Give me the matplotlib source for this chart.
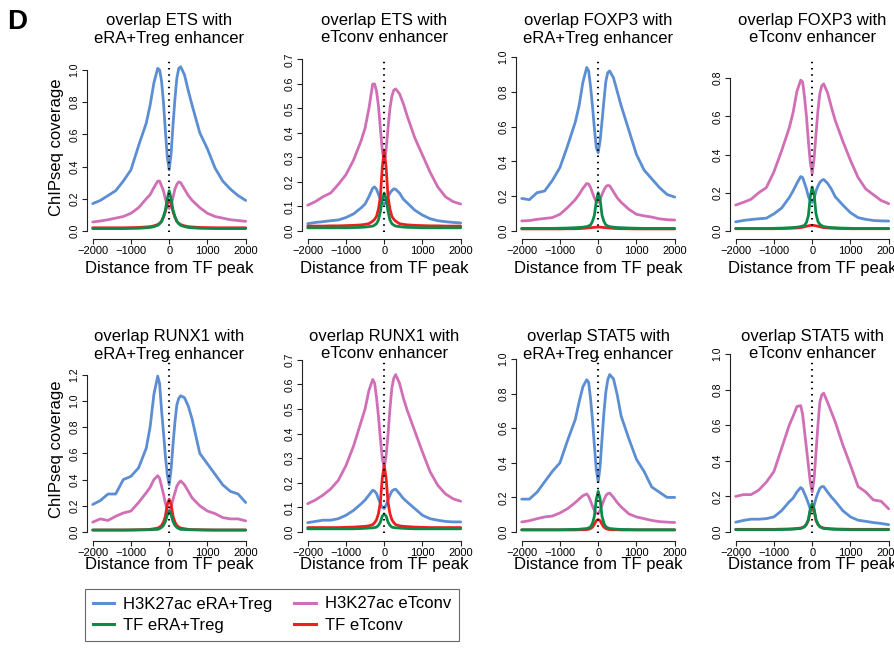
import matplotlib
matplotlib.use("Agg")
import numpy as np
import matplotlib.pyplot as plt
from matplotlib.lines import Line2D

plt.rcParams['font.family'] = ['Liberation Sans', 'DejaVu Sans']

# distance from TF peak (bp)
dist = [-2000, -1800, -1600, -1400, -1200, -1000, -800, -600, -500, -400, -300,
        -250, -200, -150, -100, -50, 0, 50, 100, 150, 200, 250,
        300, 400, 500, 600, 800, 1000, 1200, 1400, 1600, 1800, 2000]

# overlap ETS with eRA+Treg enhancer
ets_treg_h3_treg = [0.17, 0.19, 0.22, 0.25, 0.31, 0.38, 0.53, 0.67, 0.78, 0.92, 1.01,
                    1.00, 0.93, 0.80, 0.62, 0.46, 0.38, 0.48, 0.66, 0.82, 0.95, 1.01,
                    1.02, 0.97, 0.87, 0.78, 0.61, 0.51, 0.39, 0.31, 0.26, 0.22, 0.19]
ets_treg_h3_tconv = [0.056, 0.062, 0.07, 0.08, 0.09, 0.11, 0.145, 0.20, 0.225, 0.27, 0.31,
                     0.31, 0.28, 0.25, 0.20, 0.16, 0.14, 0.16, 0.21, 0.26, 0.29, 0.305,
                     0.30, 0.26, 0.22, 0.19, 0.145, 0.11, 0.09, 0.08, 0.07, 0.065, 0.06]
ets_treg_tf_treg = [0.015, 0.015, 0.015, 0.015, 0.015, 0.016, 0.017, 0.02, 0.022, 0.027, 0.035,
                    0.045, 0.06, 0.09, 0.13, 0.2, 0.25, 0.2, 0.13, 0.09, 0.06, 0.045,
                    0.035, 0.027, 0.022, 0.02, 0.017, 0.016, 0.015, 0.015, 0.015, 0.015, 0.015]
ets_treg_tf_tconv = [0.02, 0.02, 0.02, 0.02, 0.02, 0.021, 0.022, 0.025, 0.027, 0.032, 0.04,
                     0.048, 0.06, 0.085, 0.12, 0.17, 0.19, 0.17, 0.12, 0.085, 0.06, 0.048,
                     0.04, 0.032, 0.027, 0.025, 0.022, 0.021, 0.02, 0.02, 0.02, 0.02, 0.02]

# overlap ETS with eTconv enhancer
ets_tconv_h3_treg = [0.03, 0.035, 0.038, 0.042, 0.045, 0.055, 0.07, 0.095, 0.11, 0.14, 0.175,
                     0.18, 0.17, 0.15, 0.13, 0.115, 0.11, 0.12, 0.14, 0.155, 0.165, 0.172,
                     0.17, 0.155, 0.13, 0.115, 0.085, 0.065, 0.05, 0.042, 0.038, 0.035, 0.033]
ets_tconv_h3_tconv = [0.105, 0.12, 0.14, 0.155, 0.19, 0.23, 0.29, 0.37, 0.42, 0.50, 0.60,
                      0.60, 0.57, 0.51, 0.42, 0.33, 0.28, 0.33, 0.42, 0.50, 0.55, 0.575,
                      0.58, 0.56, 0.52, 0.47, 0.38, 0.31, 0.24, 0.18, 0.14, 0.12, 0.11]
ets_tconv_tf_treg = [0.013, 0.013, 0.013, 0.013, 0.013, 0.013, 0.014, 0.015, 0.016, 0.018, 0.02,
                     0.024, 0.03, 0.045, 0.08, 0.13, 0.155, 0.13, 0.08, 0.045, 0.03, 0.024,
                     0.02, 0.018, 0.016, 0.015, 0.014, 0.013, 0.013, 0.013, 0.013, 0.013, 0.013]
ets_tconv_tf_tconv = [0.02, 0.02, 0.02, 0.021, 0.021, 0.022, 0.023, 0.025, 0.027, 0.03, 0.04,
                      0.048, 0.06, 0.09, 0.14, 0.26, 0.33, 0.26, 0.14, 0.09, 0.06, 0.048,
                      0.04, 0.03, 0.027, 0.025, 0.023, 0.022, 0.021, 0.021, 0.02, 0.02, 0.02]

# overlap FOXP3 with eRA+Treg enhancer
foxp3_treg_h3_treg = [0.187, 0.18, 0.22, 0.23, 0.29, 0.365, 0.49, 0.625, 0.72, 0.855, 0.94,
                      0.92, 0.83, 0.72, 0.59, 0.48, 0.45, 0.52, 0.63, 0.75, 0.86, 0.91,
                      0.92, 0.88, 0.80, 0.72, 0.58, 0.44, 0.35, 0.30, 0.25, 0.21, 0.195]
foxp3_treg_h3_tconv = [0.058, 0.06, 0.067, 0.072, 0.077, 0.096, 0.135, 0.18, 0.21, 0.245, 0.273,
                       0.27, 0.25, 0.22, 0.19, 0.17, 0.165, 0.18, 0.21, 0.235, 0.255, 0.262,
                       0.26, 0.225, 0.19, 0.165, 0.125, 0.096, 0.087, 0.08, 0.07, 0.065, 0.063]
foxp3_treg_tf_treg = [0.015, 0.015, 0.015, 0.015, 0.015, 0.016, 0.017, 0.019, 0.02, 0.022, 0.025,
                      0.029, 0.035, 0.055, 0.09, 0.17, 0.22, 0.18, 0.09, 0.055, 0.035, 0.029,
                      0.025, 0.022, 0.02, 0.019, 0.017, 0.016, 0.015, 0.015, 0.015, 0.015, 0.015]
foxp3_treg_tf_tconv = [0.012, 0.012, 0.012, 0.012, 0.012, 0.012, 0.013, 0.013, 0.014, 0.015, 0.017,
                       0.018, 0.019, 0.02, 0.021, 0.022, 0.023, 0.022, 0.021, 0.02, 0.019, 0.018,
                       0.017, 0.015, 0.014, 0.013, 0.013, 0.012, 0.012, 0.012, 0.012, 0.012, 0.012]

# overlap FOXP3 with eTconv enhancer
foxp3_tconv_h3_treg = [0.048, 0.055, 0.06, 0.064, 0.067, 0.09, 0.12, 0.175, 0.21, 0.25, 0.285,
                       0.28, 0.25, 0.22, 0.18, 0.16, 0.15, 0.17, 0.21, 0.235, 0.255, 0.265,
                       0.27, 0.25, 0.22, 0.18, 0.136, 0.096, 0.07, 0.061, 0.055, 0.053, 0.052]
foxp3_tconv_h3_tconv = [0.136, 0.15, 0.166, 0.2, 0.227, 0.31, 0.42, 0.54, 0.62, 0.73, 0.79,
                        0.78, 0.70, 0.60, 0.47, 0.36, 0.30, 0.38, 0.51, 0.63, 0.72, 0.76,
                        0.77, 0.725, 0.65, 0.58, 0.47, 0.37, 0.28, 0.22, 0.19, 0.16, 0.143]
foxp3_tconv_tf_treg = [0.013, 0.013, 0.013, 0.013, 0.013, 0.014, 0.015, 0.017, 0.018, 0.02, 0.023,
                       0.026, 0.03, 0.045, 0.08, 0.18, 0.23, 0.19, 0.09, 0.05, 0.035, 0.028,
                       0.023, 0.02, 0.018, 0.017, 0.015, 0.014, 0.013, 0.013, 0.013, 0.013, 0.013]
foxp3_tconv_tf_tconv = [0.012, 0.012, 0.012, 0.012, 0.012, 0.012, 0.013, 0.014, 0.015, 0.016, 0.018,
                        0.02, 0.022, 0.025, 0.027, 0.029, 0.03, 0.029, 0.027, 0.025, 0.022, 0.02,
                        0.018, 0.016, 0.015, 0.014, 0.013, 0.012, 0.012, 0.012, 0.012, 0.012, 0.012]

# overlap RUNX1 with eRA+Treg enhancer
runx1_treg_h3_treg = [0.21, 0.24, 0.29, 0.29, 0.40, 0.425, 0.49, 0.64, 0.80, 1.05, 1.19,
                      1.13, 0.93, 0.76, 0.58, 0.44, 0.36, 0.48, 0.67, 0.84, 0.97, 1.02,
                      1.04, 1.025, 0.96, 0.86, 0.60, 0.52, 0.44, 0.36, 0.31, 0.29, 0.225]
runx1_treg_h3_tconv = [0.075, 0.10, 0.088, 0.12, 0.145, 0.16, 0.225, 0.30, 0.34, 0.40, 0.43,
                       0.41, 0.35, 0.29, 0.22, 0.17, 0.15, 0.19, 0.25, 0.30, 0.35, 0.375,
                       0.39, 0.36, 0.31, 0.26, 0.20, 0.16, 0.14, 0.11, 0.10, 0.10, 0.085]
runx1_treg_tf_treg = [0.015, 0.015, 0.015, 0.015, 0.015, 0.015, 0.016, 0.017, 0.018, 0.019, 0.02,
                      0.026, 0.035, 0.05, 0.08, 0.13, 0.16, 0.13, 0.08, 0.05, 0.035, 0.026,
                      0.02, 0.019, 0.018, 0.017, 0.016, 0.015, 0.015, 0.015, 0.015, 0.015, 0.015]
runx1_treg_tf_tconv = [0.015, 0.015, 0.015, 0.015, 0.015, 0.016, 0.017, 0.018, 0.02, 0.025, 0.03,
                       0.038, 0.05, 0.075, 0.12, 0.21, 0.25, 0.21, 0.12, 0.075, 0.05, 0.038,
                       0.03, 0.025, 0.02, 0.018, 0.017, 0.016, 0.015, 0.015, 0.015, 0.015, 0.015]

# overlap RUNX1 with eTconv enhancer
runx1_tconv_h3_treg = [0.038, 0.043, 0.048, 0.048, 0.054, 0.068, 0.088, 0.115, 0.13, 0.15, 0.17,
                       0.166, 0.156, 0.135, 0.115, 0.10, 0.095, 0.11, 0.13, 0.15, 0.166, 0.172,
                       0.174, 0.156, 0.136, 0.122, 0.095, 0.068, 0.054, 0.048, 0.043, 0.041, 0.041]
runx1_tconv_h3_tconv = [0.115, 0.13, 0.15, 0.175, 0.21, 0.27, 0.35, 0.45, 0.50, 0.575, 0.62,
                        0.605, 0.545, 0.47, 0.38, 0.30, 0.26, 0.31, 0.395, 0.50, 0.585, 0.625,
                        0.64, 0.605, 0.545, 0.495, 0.41, 0.325, 0.245, 0.19, 0.155, 0.135, 0.125]
runx1_tconv_tf_treg = [0.013, 0.013, 0.013, 0.013, 0.013, 0.013, 0.013, 0.014, 0.015, 0.016, 0.017,
                       0.018, 0.02, 0.027, 0.04, 0.065, 0.072, 0.065, 0.04, 0.027, 0.02, 0.018,
                       0.017, 0.016, 0.015, 0.014, 0.013, 0.013, 0.013, 0.013, 0.013, 0.013, 0.013]
runx1_tconv_tf_tconv = [0.018, 0.018, 0.018, 0.018, 0.018, 0.019, 0.02, 0.022, 0.023, 0.025, 0.03,
                        0.038, 0.05, 0.075, 0.12, 0.22, 0.27, 0.22, 0.12, 0.075, 0.05, 0.038,
                        0.03, 0.025, 0.023, 0.022, 0.02, 0.019, 0.018, 0.018, 0.018, 0.018, 0.018]

# overlap STAT5 with eRA+Treg enhancer
stat5_treg_h3_treg = [0.19, 0.19, 0.23, 0.29, 0.35, 0.40, 0.53, 0.65, 0.75, 0.84, 0.88,
                      0.865, 0.77, 0.65, 0.50, 0.36, 0.29, 0.38, 0.54, 0.69, 0.81, 0.88,
                      0.91, 0.885, 0.79, 0.67, 0.54, 0.42, 0.35, 0.26, 0.23, 0.20, 0.20]
stat5_treg_h3_tconv = [0.058, 0.065, 0.077, 0.087, 0.092, 0.11, 0.135, 0.17, 0.19, 0.21, 0.22,
                       0.205, 0.18, 0.15, 0.125, 0.11, 0.105, 0.125, 0.155, 0.185, 0.21, 0.222,
                       0.225, 0.20, 0.17, 0.145, 0.105, 0.087, 0.077, 0.067, 0.06, 0.057, 0.055]
stat5_treg_tf_treg = [0.013, 0.013, 0.013, 0.013, 0.013, 0.013, 0.014, 0.015, 0.016, 0.018, 0.02,
                      0.024, 0.03, 0.05, 0.09, 0.19, 0.235, 0.19, 0.09, 0.05, 0.03, 0.024,
                      0.02, 0.018, 0.016, 0.015, 0.014, 0.013, 0.013, 0.013, 0.013, 0.013, 0.013]
stat5_treg_tf_tconv = [0.012, 0.012, 0.012, 0.012, 0.012, 0.012, 0.012, 0.012, 0.013, 0.013, 0.014,
                       0.016, 0.02, 0.028, 0.045, 0.065, 0.072, 0.065, 0.045, 0.028, 0.02, 0.016,
                       0.014, 0.013, 0.013, 0.012, 0.012, 0.012, 0.012, 0.012, 0.012, 0.012, 0.012]

# overlap STAT5 with eTconv enhancer
stat5_tconv_h3_treg = [0.055, 0.065, 0.072, 0.072, 0.075, 0.085, 0.12, 0.17, 0.19, 0.225, 0.25,
                       0.24, 0.215, 0.19, 0.16, 0.13, 0.12, 0.15, 0.19, 0.22, 0.245, 0.255,
                       0.255, 0.225, 0.197, 0.173, 0.12, 0.085, 0.066, 0.06, 0.053, 0.048, 0.041]
stat5_tconv_h3_tconv = [0.20, 0.21, 0.21, 0.235, 0.28, 0.34, 0.47, 0.60, 0.65, 0.705, 0.71,
                        0.66, 0.565, 0.47, 0.375, 0.28, 0.225, 0.30, 0.45, 0.60, 0.73, 0.77,
                        0.78, 0.73, 0.675, 0.62, 0.49, 0.375, 0.255, 0.225, 0.18, 0.173, 0.13]
stat5_tconv_tf_treg = [0.013, 0.013, 0.013, 0.013, 0.013, 0.013, 0.014, 0.015, 0.016, 0.018, 0.02,
                       0.024, 0.03, 0.045, 0.07, 0.13, 0.16, 0.13, 0.07, 0.045, 0.03, 0.024,
                       0.02, 0.018, 0.016, 0.015, 0.014, 0.013, 0.013, 0.013, 0.013, 0.013, 0.013]
stat5_tconv_tf_tconv = [0.015, 0.015, 0.015, 0.015, 0.015, 0.015, 0.016, 0.017, 0.018, 0.02, 0.022,
                        0.026, 0.03, 0.042, 0.065, 0.12, 0.15, 0.12, 0.065, 0.042, 0.03, 0.026,
                        0.022, 0.02, 0.018, 0.017, 0.016, 0.015, 0.015, 0.015, 0.015, 0.015, 0.015]

titles = [["overlap ETS with\neRA+Treg enhancer", "overlap ETS with\neTconv enhancer",
           "overlap FOXP3 with\neRA+Treg enhancer", "overlap FOXP3 with\neTconv enhancer"],
          ["overlap RUNX1 with\neRA+Treg enhancer", "overlap RUNX1 with\neTconv enhancer",
           "overlap STAT5 with\neRA+Treg enhancer", "overlap STAT5 with\neTconv enhancer"]]

panels = [[(ets_treg_h3_treg, ets_treg_h3_tconv, ets_treg_tf_treg, ets_treg_tf_tconv),
           (ets_tconv_h3_treg, ets_tconv_h3_tconv, ets_tconv_tf_treg, ets_tconv_tf_tconv),
           (foxp3_treg_h3_treg, foxp3_treg_h3_tconv, foxp3_treg_tf_treg, foxp3_treg_tf_tconv),
           (foxp3_tconv_h3_treg, foxp3_tconv_h3_tconv, foxp3_tconv_tf_treg, foxp3_tconv_tf_tconv)],
          [(runx1_treg_h3_treg, runx1_treg_h3_tconv, runx1_treg_tf_treg, runx1_treg_tf_tconv),
           (runx1_tconv_h3_treg, runx1_tconv_h3_tconv, runx1_tconv_tf_treg, runx1_tconv_tf_tconv),
           (stat5_treg_h3_treg, stat5_treg_h3_tconv, stat5_treg_tf_treg, stat5_treg_tf_tconv),
           (stat5_tconv_h3_treg, stat5_tconv_h3_tconv, stat5_tconv_tf_treg, stat5_tconv_tf_tconv)]]

series_labels = ["H3K27ac eRA+Treg", "H3K27ac eTconv", "TF eRA+Treg", "TF eTconv"]
BLUE, PINK, GREEN, RED = "#5b8ed2", "#d06fb6", "#0b8a4a", "#ee1f1f"

# y axis top tick and step per panel
ytop = [[1.0, 0.7, 1.0, 0.8], [1.2, 0.7, 1.0, 1.0]]
ystep = [[0.2, 0.1, 0.2, 0.2], [0.2, 0.1, 0.2, 0.2]]

# layout in pixels
W, H = 894, 648
col_x0 = [92.7, 307.7, 521.7, 735.7]    # pixel of x = -2000
span = 153.0
rows = [(239, 50, 231, 232, 58, 29, 268, 147),    # bottom, top, zero, dot lo, dot hi, title y, xlabel y, ylabel y
        (541, 350, 532, 533, 355, 345, 565, 449)]
ppu = [[161, 245, 174, 191], [131, 246, 173, 178]]   # pixels per y unit

fig = plt.figure(figsize=(W / 100, H / 100), dpi=100)

for r in range(2):
    bot, top, zero, dlo, dhi, ty, xly, yly = rows[r]
    for c in range(4):
        x0 = col_x0[c]
        ax = fig.add_axes([(x0 - 0.04 * span) / W, 1 - bot / H, 1.08 * span / W, (bot - top) / H])
        p = ppu[r][c]
        h3_treg, h3_tconv, tf_treg, tf_tconv = panels[r][c]
        kw = dict(lw=2, solid_joinstyle="round", solid_capstyle="round")
        ax.plot(dist, h3_treg, color=BLUE, **kw)
        ax.plot(dist, h3_tconv, color=PINK, **kw)
        ax.plot(dist, tf_tconv, color=RED, **kw)
        ax.plot(dist, tf_treg, color=GREEN, **kw)
        ax.axvline(0, ymin=(bot - dlo) / (bot - top), ymax=(bot - dhi) / (bot - top),
                   color="black", lw=1.5, dashes=(0.7, 2.3))
        ax.set_xlim(-2160, 2160)
        ax.set_ylim(-(bot - zero) / p, (zero - top) / p)

        for s in ["top", "right"]:
            ax.spines[s].set_visible(False)
        for s in ["left", "bottom"]:
            ax.spines[s].set_linewidth(0.8)
            ax.spines[s].set_color("#222222")
        ax.spines["bottom"].set_bounds(-2000, 2000)
        ax.spines["left"].set_bounds(0, ytop[r][c])

        ax.set_xticks([-2000, -1000, 0, 1000, 2000])
        yt = np.round(np.arange(0, ytop[r][c] + 1e-6, ystep[r][c]), 1)
        ax.set_yticks(yt, [f"{v:.1f}" for v in yt], rotation=90, va="center")
        ax.tick_params(axis="both", direction="out", length=3.5, width=0.8, color="#222222", pad=1.5)
        ax.tick_params(axis="x", labelsize=8)
        ax.tick_params(axis="y", labelsize=7.5)

        cx = (x0 + span / 2) / W
        fig.text(cx, 1 - ty / H, titles[r][c], ha="center", va="center", fontsize=12, linespacing=1.25)
        fig.text(cx, 1 - xly / H, "Distance from TF peak", ha="center", va="center", fontsize=12)

    fig.text(57 / W, 1 - yly / H, "ChIPseq coverage", rotation=90, ha="center", va="center", fontsize=12)

fig.text(17 / W, 1 - 22 / H, "D", fontsize=20, fontweight="bold", ha="center", va="center")

handles = [Line2D([], [], color=BLUE, lw=2.2), Line2D([], [], color=GREEN, lw=2.2),
           Line2D([], [], color=PINK, lw=2.2), Line2D([], [], color=RED, lw=2.2)]
labels = [series_labels[0], series_labels[2], series_labels[1], series_labels[3]]
leg = fig.legend(handles, labels, loc="upper left", bbox_to_anchor=(85 / W, 1 - 589 / H), ncol=2,
                 frameon=True, fancybox=False, edgecolor="#444444", fontsize=12, handlelength=1.3,
                 handletextpad=0.55, columnspacing=1.3, labelspacing=0.4, borderpad=0.45, borderaxespad=0)
leg.get_frame().set_linewidth(0.8)

fig.savefig("out.png", dpi=100)
